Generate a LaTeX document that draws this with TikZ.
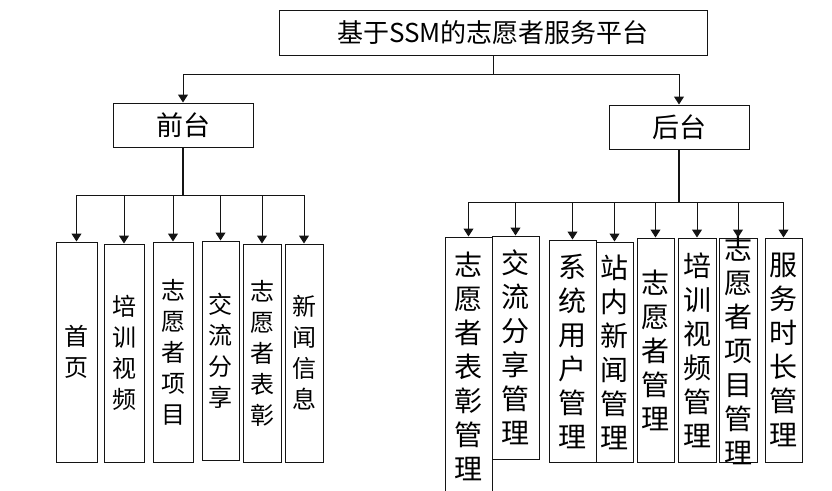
\documentclass[tikz,border=0pt]{standalone}
\usepackage{fontspec}
\usepackage{xcolor}
\usepackage{tikz}
\usetikzlibrary{arrows.meta, positioning}
\newfontfamily\cjk{Noto Sans CJK SC}
\definecolor{lline}{HTML}{141414}
\tikzset{
  titlebox/.style={rectangle, draw=lline, line width=1pt, minimum width=428pt, minimum height=45pt,
                   inner sep=0pt, font=\cjk\fontsize{26}{30}\selectfont},
  tierbox/.style={rectangle, draw=lline, line width=1pt, minimum width=140pt, minimum height=44pt,
                  inner sep=0pt, font=\cjk\fontsize{27}{30}\selectfont},
  leaf/.style={rectangle, draw=lline, line width=1pt, inner sep=0pt, align=center,
               font=\cjk\fontsize{24}{31}\selectfont},
  mgr/.style={rectangle, draw=lline, line width=1pt, inner sep=0pt, align=center,
              font=\cjk\fontsize{28}{34}\selectfont},
  flow/.style={-{Triangle[length=8pt, width=10pt]}, draw=lline, line width=1pt},
  trunk/.style={draw=lline, line width=2pt}
}

\begin{document}
\begin{tikzpicture}[x=1pt, y=-1pt]
  \useasboundingbox (0,0) rectangle (832,490);
  \clip (0,0) rectangle (832,490);

  \node[titlebox] (top) at (493,32.5) {基于SSM的志愿者服务平台};
  \node[tierbox] (front) at (183,125) {前台};
  \node[tierbox] (back) at (679,127) {后台};

  \node[leaf, minimum width=41pt, minimum height=220pt] (f1) at (76.5,352) {首\\页};
  \node[leaf, minimum width=40pt, minimum height=218pt] (f2) at (124,353) {培\\训\\视\\频};
  \node[leaf, minimum width=40pt, minimum height=220pt] (f3) at (173,352) {志\\愿\\者\\项\\目};
  \node[leaf, minimum width=37pt, minimum height=219pt] (f4) at (220.5,350.5) {交\\流\\分\\享};
  \node[leaf, minimum width=38pt, minimum height=218pt] (f5) at (262,353) {志\\愿\\者\\表\\彰};
  \node[leaf, minimum width=38pt, minimum height=218pt] (f6) at (304,353) {新\\闻\\信\\息};

  \node[mgr, minimum width=47pt, minimum height=258pt] (b1) at (468.5,366) {志\\愿\\者\\表\\彰\\管\\理};
  \node[mgr, minimum width=47pt, minimum height=223pt] (b2) at (515.5,347.5) {交\\流\\分\\享\\管\\理};
  \node[mgr, minimum width=47pt, minimum height=222pt] (b3) at (572.5,351) {系\\统\\用\\户\\管\\理};
  \node[mgr, minimum width=37pt, minimum height=220pt] (b4) at (614.5,352) {站\\内\\新\\闻\\管\\理};
  \node[mgr, minimum width=37pt, minimum height=224pt] (b5) at (655.5,350) {志\\愿\\者\\管\\理};
  \node[mgr, minimum width=38pt, minimum height=224pt] (b6) at (697,350) {培\\训\\视\\频\\管\\理};
  \node[mgr, minimum width=38pt, minimum height=224pt] (b7) at (738,350) {};
  \node[mgr, draw=none] (b7t) at (b7) {志\\愿\\者\\项\\目\\管\\理};
  \node[mgr, minimum width=37pt, minimum height=224pt] (b8) at (783.5,350) {服\\务\\时\\长\\管\\理};

  \coordinate (tj) at (493,74);
  \coordinate (fj) at (183,195);
  \coordinate (bj) at (679,202);

  \draw[draw=lline, line width=1pt] (top.south) -- (tj);
  \draw[flow] (tj) -| (front.north);
  \draw[flow] (tj) -| (back.north);

  \draw[trunk] (front.south) -- (fj);
  \foreach \i in {1,...,6}
    \draw[flow] (fj) -| (f\i.north);

  \draw[trunk] (back.south) -- (bj);
  \foreach \i in {1,...,8}
    \draw[flow] (bj) -| (b\i.north);
\end{tikzpicture}
\end{document}
